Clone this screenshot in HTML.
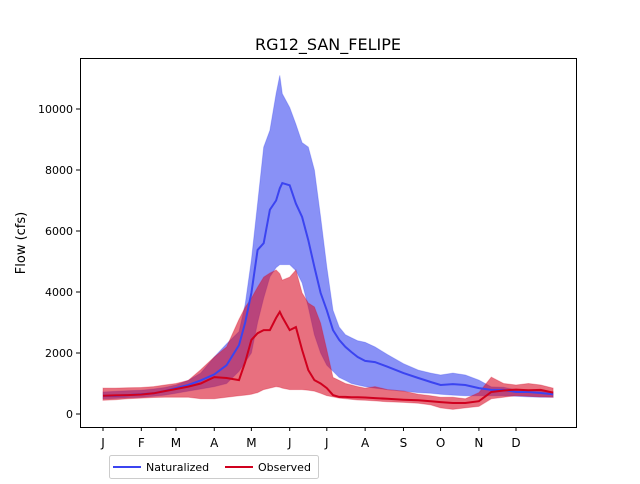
<!DOCTYPE html>
<html><head><meta charset="utf-8"><style>
body{margin:0;background:#fff;font-family:"DejaVu Sans","Liberation Sans",sans-serif}
svg text{font-family:"DejaVu Sans","Liberation Sans",sans-serif}
</style></head><body>
<svg id="chart" width="640" height="480" viewBox="0 0 640 480">
<text x="328" y="50" font-size="16" text-anchor="middle">RG12_SAN_FELIPE</text>
<g id="plot"></g>
<rect x="80.5" y="58.5" width="496" height="369" fill="none" stroke="#000" stroke-width="1"/>
<g id="axes"></g>
<text transform="translate(25,243) rotate(-90)" font-size="13" text-anchor="middle">Flow (cfs)</text>
<g>
<rect x="109.5" y="455.5" width="209" height="23" rx="2" fill="#fff" stroke="#ccc"/>
<line x1="113" y1="467" x2="141" y2="467" stroke="#3b44f0" stroke-width="2"/>
<text x="146" y="471" font-size="11">Naturalized</text>
<line x1="225" y1="467" x2="253" y2="467" stroke="#d0001e" stroke-width="2"/>
<text x="258" y="471" font-size="11">Observed</text>
</g>
</svg>
<script>
const days=[0,10,20,31,41,50,59,69,79,90,100,110,115,120,125,130,135,140,143,145,151,156,161,166,171,176,181,186,191,196,201,206,212,220,230,243,255,265,273,283,293,304,314,324,334,344,354,364];
const natMed=[600,600,620,650,680,750,850,950,1100,1300,1600,2260,3000,3970,5380,5600,6700,7000,7400,7570,7500,6900,6460,5700,4820,3970,3400,2750,2430,2200,2030,1870,1740,1700,1550,1340,1180,1050,950,980,950,850,790,790,720,720,690,650];
const natMax=[720,740,760,780,820,870,950,1100,1340,1870,2300,2700,3600,5050,6900,8750,9300,10500,11100,10500,10050,9500,8900,8750,8000,6460,4820,3400,2850,2600,2500,2400,2350,2200,1950,1650,1440,1340,1280,1340,1280,1110,890,880,790,790,760,720];
const natMin=[500,510,530,550,580,620,680,750,820,900,1000,1400,1700,2000,3000,3800,4500,4800,4900,4900,4900,4700,4300,3500,2600,2000,1600,1400,1200,1100,1000,950,900,850,800,750,700,680,650,620,600,600,600,600,580,560,550,550];
const obsMed=[600,610,620,640,680,750,820,900,1000,1210,1180,1110,1700,2430,2650,2750,2750,3150,3350,3180,2750,2850,2100,1440,1110,1000,850,620,560,560,550,550,540,520,500,470,450,420,390,360,360,420,720,770,800,780,790,700];
const obsMax=[850,850,860,870,900,950,1000,1100,1450,1870,2200,3100,3500,3800,4160,4490,4620,4720,4600,4390,4490,4720,3970,3640,3510,2980,2100,1200,1100,1000,950,900,850,900,800,750,650,600,550,550,500,700,1210,1000,950,1000,950,850];
const obsMin=[450,470,500,520,540,550,550,550,500,500,550,600,620,650,700,800,850,900,880,850,800,800,800,780,750,680,600,560,520,500,480,460,450,430,400,380,350,300,200,150,200,250,500,550,600,580,560,550];
const yTicks=[0,2000,4000,6000,8000,10000];
const xTickDays=[0,31,59,90,120,151,181,212,243,273,304,334];
const xTickLabels=["J","F","M","A","M","J","J","A","S","O","N","D"];
const NS="http://www.w3.org/2000/svg";
const xs=d=>103+d*1.2365;
const ys=v=>414-v*0.0305;
function line(a){return a.map((v,i)=>(i?"L":"M")+xs(days[i]).toFixed(1)+","+ys(v).toFixed(1)).join("");}
function band(lo,hi){let p=hi.map((v,i)=>(i?"L":"M")+xs(days[i]).toFixed(1)+","+ys(v).toFixed(1)).join("");
for(let i=lo.length-1;i>=0;i--)p+="L"+xs(days[i]).toFixed(1)+","+ys(lo[i]).toFixed(1);return p+"Z";}
const plot=document.getElementById("plot");
function mk(tag,attrs,parent){const e=document.createElementNS(NS,tag);for(const k in attrs)e.setAttribute(k,attrs[k]);parent.appendChild(e);return e;}
let e;
e=mk("path",{d:band(natMin,natMax),fill:"#3a48f0","fill-opacity":"0.6",stroke:"#3a48f0","stroke-opacity":"0.3"},plot);


e=mk("path",{d:band(obsMin,obsMax),fill:"#d8102a","fill-opacity":"0.6",stroke:"#d8102a","stroke-opacity":"0.3"},plot);


e=mk("path",{d:line(natMed),fill:"none",stroke:"#3b44f0","stroke-width":"2"},plot);


e=mk("path",{d:line(obsMed),fill:"none",stroke:"#d0001e","stroke-width":"2"},plot);


const axes=document.getElementById("axes");
yTicks.forEach(v=>{const y=ys(v);
e=mk("line",{x1:76,x2:80,y1:y,y2:y,stroke:"#000"},axes);


e=mk("text",{x:73,y:y+4,"font-size":"11","text-anchor":"end"},axes);e.textContent=v;

});
xTickDays.forEach((d,i)=>{const x=xs(d);
e=mk("line",{x1:x,x2:x,y1:427,y2:431,stroke:"#000"},axes);


e=mk("text",{x:x,y:447,"font-size":"12","text-anchor":"middle"},axes);e.textContent=xTickLabels[i];

});
</script>
</body></html>
